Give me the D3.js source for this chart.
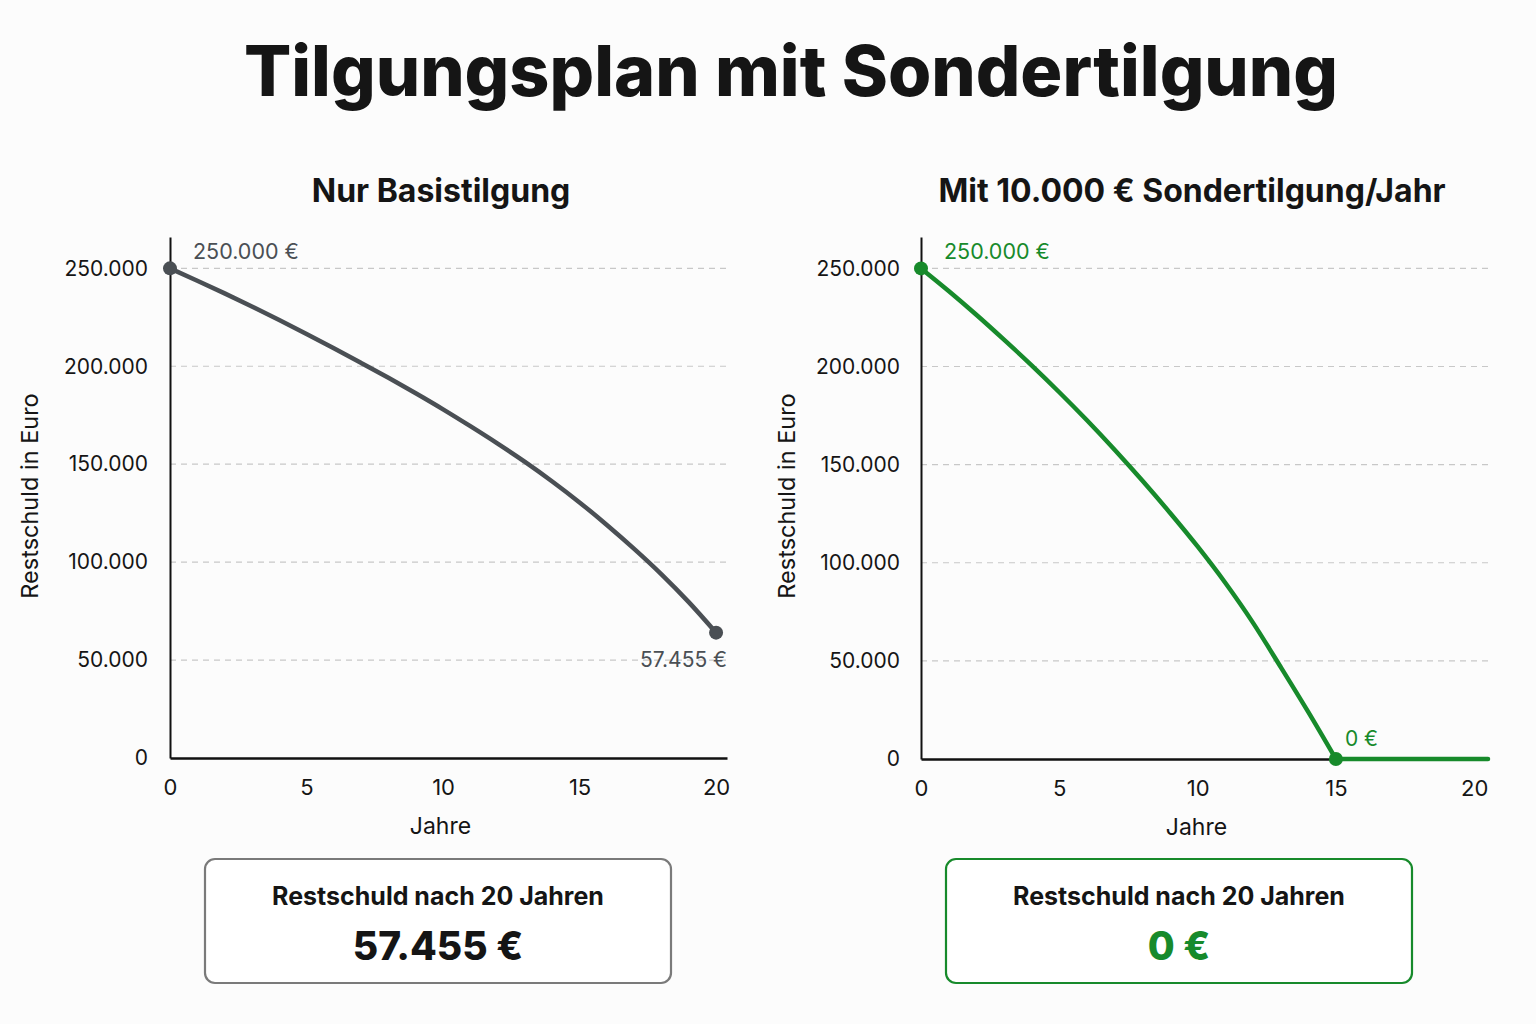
<!DOCTYPE html>
<html><head><meta charset="utf-8">
<script src="https://cdn.jsdelivr.net/npm/d3@7"></script>
<style>
body{margin:0;background:#fcfcfc;}
svg{display:block;}
text{font-family:Inter,"Noto Sans",sans-serif;}
</style></head>
<body><svg id="c" width="1536" height="1024"></svg>
<script>
const years = [0,1,2,3,4,5,6,7,8,9,10,11,12,13,14,15,16,17,18,19,20];
const basisValues = [250000,243700,237200,230500,223600,216500,209200,201700,194100,186200,178000,169400,160500,151200,141200,130500,119000,106800,93800,79600,64000];
const sonderValues = [250000,238500,226400,213700,200600,186900,172600,157600,141900,125500,108300,89800,69500,47000,24000,0,0,0,0,0,0];
const yTicks = [0,50000,100000,150000,200000,250000];
const xTicks = [0,5,10,15,20];
const title = "Tilgungsplan mit Sondertilgung";
const panelTitles = ["Nur Basistilgung","Mit 10.000 € Sondertilgung/Jahr"];
const startLabel = "250.000 €";
const endLabels = ["57.455 €","0 €"];
const boxTitle = "Restschuld nach 20 Jahren";
const boxValues = ["57.455 €","0 €"];

const fmt = d => d===0 ? "0" : d3.format(",")(d).replace(/,/g,".");
const svg = d3.select("#c");
const GREY = "#4a4f54", GREEN = "#178a2b";

svg.append("text").attr("x",791).attr("y",96).attr("text-anchor","middle")
  .attr("font-size",70).attr("font-weight",800).attr("fill","#151515").text(title);

const panels = [
  {x0:170,x1:727,xmax:20.4,y0:758,color:GREY,vals:basisValues,cx:441,endIdx:20,endLabelPos:"below",boxX:205,boxStroke:"#7a7a7a",valColor:"#151515",ytx:148,ylab:30,flat:false},
  {x0:921,x1:1488,xmax:20.5,y0:759,color:GREEN,vals:sonderValues,cx:1192,endIdx:15,endLabelPos:"above",boxX:946,boxStroke:GREEN,valColor:GREEN,ytx:900,ylab:787,flat:true}
];

panels.forEach((p,i)=>{
  const g = svg.append("g");
  const x = d3.scaleLinear().domain([0,p.xmax]).range([p.x0,p.x1]);
  const y = d3.scaleLinear().domain([0,266000]).range([p.y0,237]);

  g.append("text").attr("x",p.cx).attr("y",202).attr("text-anchor","middle")
    .attr("font-size",32).attr("font-weight",700).attr("fill","#151515").text(panelTitles[i]);

  // grid
  g.selectAll(".grid").data(yTicks.filter(d=>d>0)).join("line")
    .attr("x1",p.x0).attr("x2",p.x1+3).attr("y1",d=>y(d)).attr("y2",d=>y(d))
    .attr("stroke","#c8c8c8").attr("stroke-width",1.2).attr("stroke-dasharray","6,5");

  // axes
  const ya = g.append("g").attr("transform",`translate(${p.x0},0)`)
    .call(d3.axisLeft(y).tickValues(yTicks).tickFormat(fmt).tickSize(0).tickPadding(p.x0-p.ytx));
  ya.select(".domain").attr("stroke","#111").attr("stroke-width",2);
  ya.selectAll("text").attr("font-size",21).attr("fill","#151515").style("font-family","Inter");

  const xa = g.append("g").attr("transform",`translate(0,${p.y0})`)
    .call(d3.axisBottom(x).tickValues(xTicks).tickFormat(d3.format("d")).tickSize(0).tickPadding(21));
  xa.select(".domain").attr("stroke","#111").attr("stroke-width",2.5);
  xa.selectAll("text").attr("font-size",22).attr("fill","#151515").style("font-family","Inter");

  g.append("text").attr("x",(p.x0+p.x1)/2-8).attr("y",p.y0+76).attr("text-anchor","middle")
    .attr("font-size",23).attr("fill","#151515").text("Jahre");
  g.append("text").attr("transform",`translate(${p.ylab},${496}) rotate(-90)`).attr("dy","0.35em")
    .attr("text-anchor","middle").attr("font-size",23.5).attr("fill","#151515").text("Restschuld in Euro");

  const line = d3.line().x(d=>x(d[0])).y(d=>y(d[1])).curve(d3.curveMonotoneX);
  const pts = years.map((yr,j)=>[yr,p.vals[j]]);
  const decl = pts.slice(0,p.endIdx+1);
  g.append("path").datum(decl).attr("d",line).attr("fill","none")
    .attr("stroke",p.color).attr("stroke-width",4.5).attr("stroke-linecap","round");
  if(p.flat){
    const rest = pts.slice(p.endIdx);
    const flatLine = d3.line().x(d=>x(d[0])).y(d=>y(d[1]));
    const ext = rest.concat([[p.xmax, rest[rest.length-1][1]]]);
    g.append("path").datum(ext).attr("d",flatLine).attr("fill","none")
      .attr("stroke",p.color).attr("stroke-width",4.5).attr("stroke-linecap","round");
  }

  // dots
  g.append("circle").attr("cx",x(0)).attr("cy",y(p.vals[0])).attr("r",7).attr("fill",p.color);
  g.append("circle").attr("cx",x(years[p.endIdx])).attr("cy",y(p.vals[p.endIdx])).attr("r",7).attr("fill",p.color);

  g.append("text").attr("x",x(0)+23).attr("y",y(p.vals[0])-9)
    .attr("font-size",21.5).attr("fill",p.color).text(startLabel);
  if(p.endLabelPos==="below"){
    g.append("text").attr("x",x(years[p.endIdx])+11).attr("y",y(p.vals[p.endIdx])+34)
      .attr("text-anchor","end").attr("font-size",21).attr("fill",p.color).text(endLabels[i]);
  } else {
    g.append("text").attr("x",x(years[p.endIdx])+9).attr("y",y(p.vals[p.endIdx])-13)
      .attr("font-size",21).attr("fill",p.color).text(endLabels[i]);
  }

  // box
  g.append("rect").attr("x",p.boxX).attr("y",859).attr("width",466).attr("height",124).attr("rx",10)
    .attr("fill","#fff").attr("stroke",p.boxStroke).attr("stroke-width",2.2);
  g.append("text").attr("x",p.boxX+233).attr("y",905).attr("text-anchor","middle")
    .attr("font-size",25).attr("font-weight",700).attr("fill","#151515").text(boxTitle);
  g.append("text").attr("x",p.boxX+233).attr("y",960).attr("text-anchor","middle")
    .attr("font-size",39).attr("font-weight",800).attr("fill",p.valColor).text(boxValues[i]);
});
</script></body></html>
